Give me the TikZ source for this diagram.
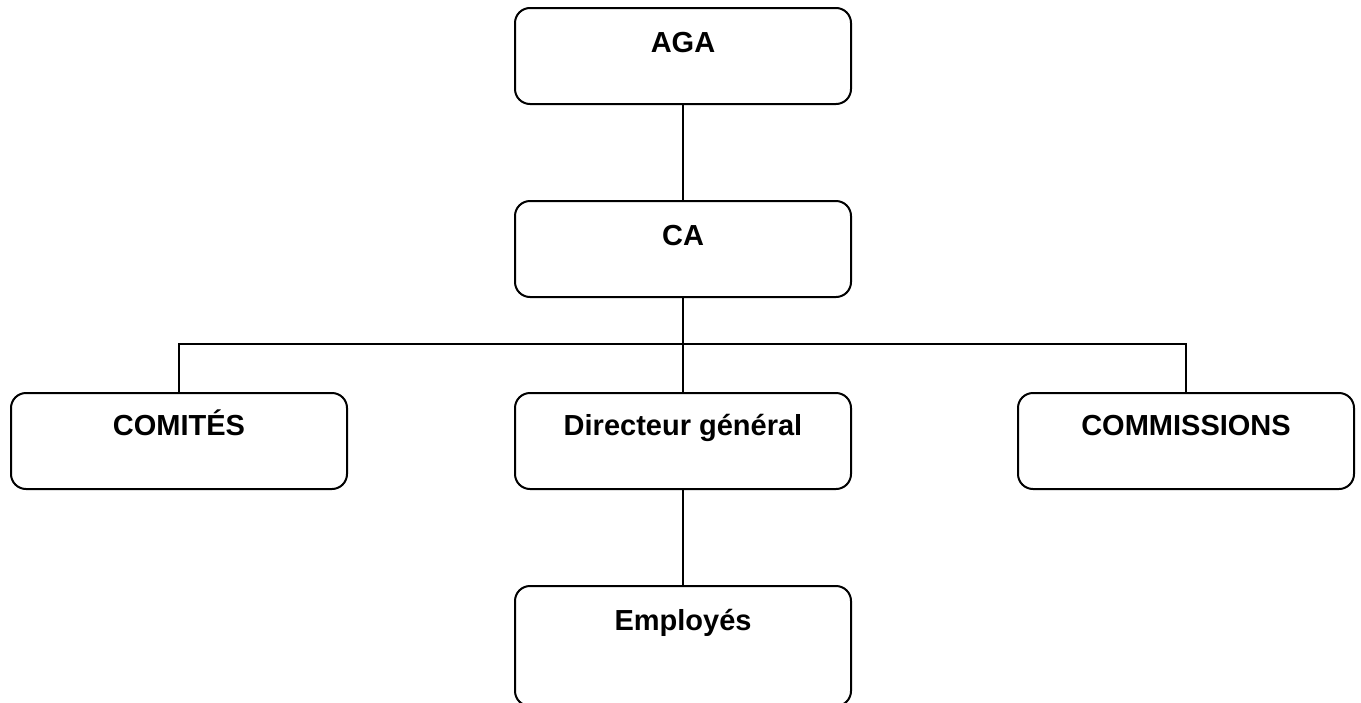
\documentclass[tikz,border=0pt]{standalone}
\usepackage{fontspec}
\setmainfont{Liberation Sans}
\usepackage{tikz}

\begin{document}
\begin{tikzpicture}[x=0.5pt, y=-0.5pt, line width=1pt,
  orgbox/.style={draw, rounded corners=7.5pt, inner sep=0pt, anchor=north,
    minimum width=168pt, text height=22pt, text depth=26pt,
    font=\fontsize{14.5}{17}\selectfont\bfseries}]
  \useasboundingbox (0,0) rectangle (1361,702);

  % top of the chart
  \node[orgbox] (aga) at (683,7) {AGA};
  \node[orgbox] (ca) at (683,200) {CA};

  % second level
  \node[orgbox, text height=21pt, text depth=27pt] (comites) at (179,392) {COMITÉS};
  \node[orgbox, text height=21pt, text depth=27pt] (dg) at (683,392) {Directeur général};
  \node[orgbox, text height=21pt, text depth=27pt] (commissions) at (1186,392) {COMMISSIONS};

  % bottom, runs off the page
  \node[orgbox, text depth=38pt] (employes) at (683,585) {Employés};

  % connectors
  \coordinate (bus) at (683,344);
  \draw (aga) -- (ca);
  \draw (ca) -- (bus);
  \draw (comites.north) |- (bus) -| (commissions.north);
  \draw (bus) -- (dg);
  \draw (dg) -- (employes);
\end{tikzpicture}
\end{document}
